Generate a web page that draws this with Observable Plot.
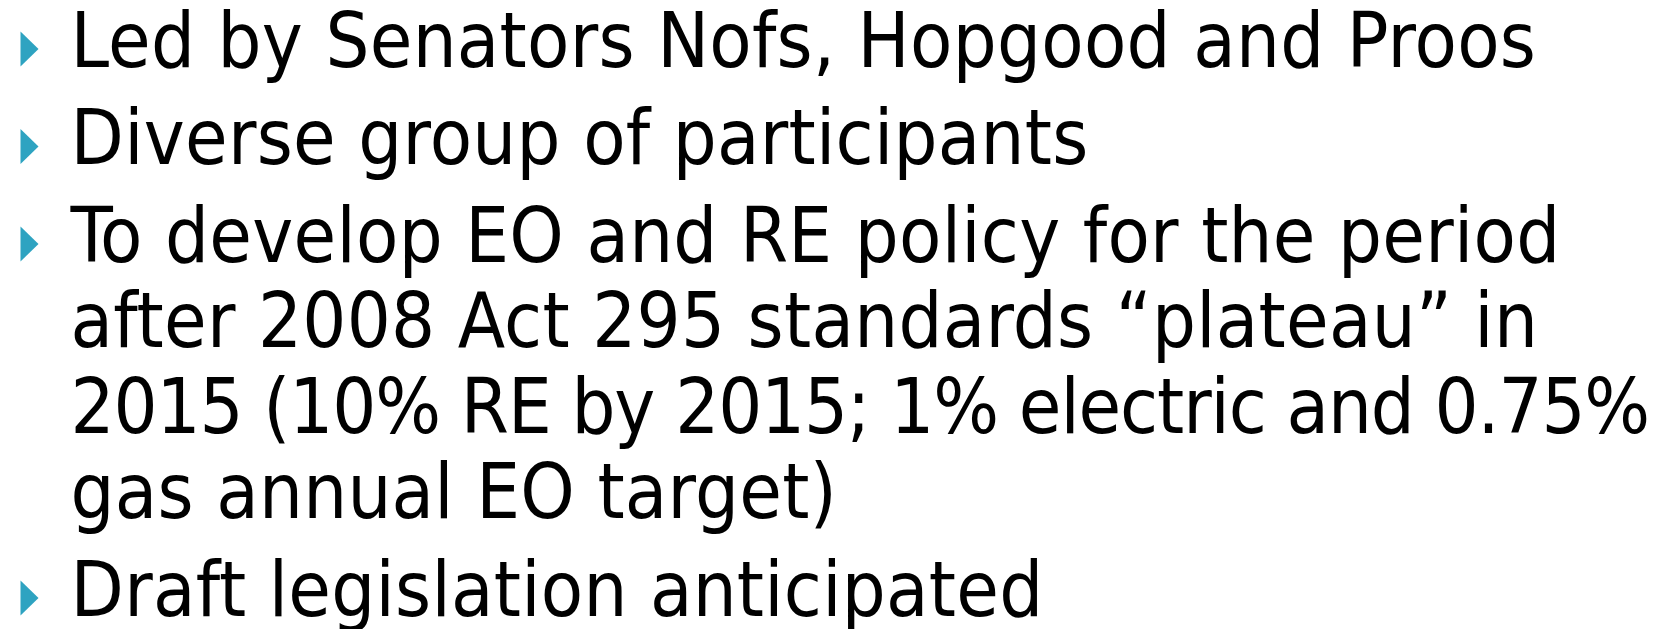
<!DOCTYPE html>
<html>
<head>
<meta charset="utf-8">
<script src="https://cdn.jsdelivr.net/npm/d3@7"></script>
<script src="https://cdn.jsdelivr.net/npm/@observablehq/plot@0.6"></script>
<style>
  html, body { margin: 0; padding: 0; background: #ffffff; }
  #chart svg { display: block; }
  #chart text { font-stretch: condensed; letter-spacing: 0.3px; }
</style>
</head>
<body>
<div id="chart"></div>
<script>
// Slide text: one entry per rendered line
const lineTexts = [
  "Led by Senators Nofs, Hopgood and Proos",
  "Diverse group of participants",
  "To develop EO and RE policy for the period",
  "after 2008 Act 295 standards \u201cplateau\u201d in",
  "2015 (10% RE by 2015; 1% electric and 0.75%",
  "gas annual EO target)",
  "Draft legislation anticipated"
];
// which bullet (paragraph) each line belongs to
const lineParagraph = [0, 1, 2, 2, 2, 2, 3];
// whether the line starts a bullet
const lineHasBullet = [true, true, true, false, false, false, true];

const W = 1671, H = 629;
const firstBaseline = 66, lineGap = 85.5, paraGap = 12;
const textLeft = 70, textRightLimit = 1650;

const rows = lineTexts.map((text, i) => ({
  text,
  bullet: lineHasBullet[i],
  row: i,
  para: lineParagraph[i],
  pos: firstBaseline + i * lineGap + lineParagraph[i] * paraGap
}));

const arrow = {
  draw(context, size) {
    const h = 17.5, w = 18;
    context.moveTo(-w / 2, -h);
    context.lineTo(w / 2, 0);
    context.lineTo(-w / 2, h);
    context.closePath();
  }
};

const chart = Plot.plot({
  width: W,
  height: H,
  margin: 0,
  x: {domain: [0, W], range: [0, W], axis: null},
  y: {domain: [0, H], range: [0, H], axis: null},
  style: {background: "#ffffff"},
  marks: [
    Plot.dot(rows.filter(d => d.bullet), {
      x: () => 29,
      y: d => d.pos - 17.5,
      symbol: arrow,
      r: 10,
      fill: "#2ea3c1",
      stroke: "none"
    }),
    Plot.text(rows, {
      x: () => textLeft,
      y: "pos",
      text: "text",
      textAnchor: "start",
      lineAnchor: "bottom",
      fontSize: 77,
      fontFamily: "'DejaVu Sans Condensed', 'DejaVu Sans'",
      fill: "#000000"
    })
  ]
});
document.getElementById("chart").appendChild(chart);

// keep every line inside the slide's right margin
chart.querySelectorAll("text").forEach(t => {
  const len = t.getComputedTextLength();
  const maxLen = textRightLimit - textLeft;
  if (len > maxLen) {
    t.setAttribute("textLength", maxLen);
    t.setAttribute("lengthAdjust", "spacing");
  }
});
</script>
</body>
</html>
